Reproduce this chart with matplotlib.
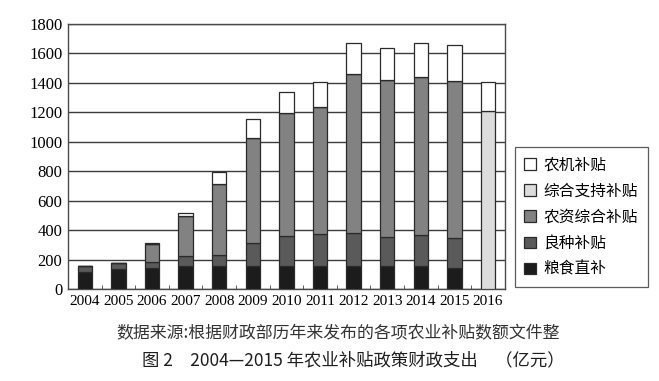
import numpy as np
import matplotlib
matplotlib.use("Agg")
import matplotlib.pyplot as plt

plt.rcParams['font.family'] = ['Noto Sans CJK SC', 'DejaVu Sans']

years = ['2004', '2005', '2006', '2007', '2008', '2009', '2010',
         '2011', '2012', '2013', '2014', '2015', '2016']

# 亿元
grain = [119, 138, 147, 156, 156, 156, 156, 156, 156, 156, 156, 147, 0]
seed = [37, 40, 36, 68, 79, 156, 204, 217, 224, 197, 210, 199, 0]
inputs = [0, 0, 122, 275, 479, 712, 834, 862, 1081, 1067, 1072, 1069, 0]
support = [0, 0, 0, 0, 0, 0, 0, 0, 0, 0, 0, 0, 1208]
machine = [1, 1, 7, 16, 82, 133, 142, 173, 212, 219, 235, 240, 200]

series = [('粮食直补', grain, '#1c1c1c'),
          ('良种补贴', seed, '#5a5a5a'),
          ('农资综合补贴', inputs, '#828282'),
          ('综合支持补贴', support, '#dcdcdc'),
          ('农机补贴', machine, '#ffffff')]

fig = plt.figure(figsize=(6.59, 3.81), dpi=100)
ax = fig.add_axes([0.1032, 0.2407, 0.6628, 0.6963])

x = np.arange(len(years))
bottom = np.zeros(len(years))
handles = []
for name, vals, col in series:
    vals = np.array(vals, dtype=float)
    b = ax.bar(x, vals, 0.43, bottom=bottom, color=col, edgecolor='#2a2a2a',
               linewidth=0.9, label=name, zorder=3)
    handles.append(b)
    bottom += vals

ax.set_ylim(0, 1800)
ax.set_xlim(-0.5, len(years) - 0.5)
ax.set_yticks(np.arange(0, 1801, 200))
ax.grid(axis='y', color='#3c3c3c', linewidth=1.0, zorder=0)
ax.set_xticks(x)
ax.set_xticklabels(years, family='Liberation Serif', fontsize=11)
ax.set_yticklabels([str(v) for v in range(0, 1801, 200)], family='Liberation Serif', fontsize=12)
ax.tick_params(axis='both', length=0, pad=4)
ax.set_xticks(np.arange(0.5, len(years) - 1, 1), minor=True)
ax.tick_params(axis='x', which='minor', direction='in', length=3, color='#444444')
for s in ax.spines.values():
    s.set_color('#4a4a4a')
    s.set_linewidth(1.0)

leg = ax.legend(handles[::-1], [s[0] for s in series][::-1],
                loc='upper left', bbox_to_anchor=(0.781, 0.614),
                bbox_transform=fig.transFigure, fontsize=11.3, frameon=True,
                fancybox=False, edgecolor='#333333', handlelength=0.75,
                handleheight=0.75, handletextpad=0.5, labelspacing=0.58,
                borderpad=0.6, borderaxespad=0)
leg.get_frame().set_linewidth(0.9)

fig.text(0.176, 0.126, '数据来源:根据财政部历年来发布的各项农业补贴数额文件整',
         fontsize=12.2, color='#333333', va='center', ha='left')
fig.text(0.2155, 0.055, '图 2　2004—2015 年农业补贴政策财政支出　（亿元）',
         fontsize=12.5, color='#1e1e1e', va='center', ha='left')

fig.savefig('out.png', dpi=100, facecolor='white')
